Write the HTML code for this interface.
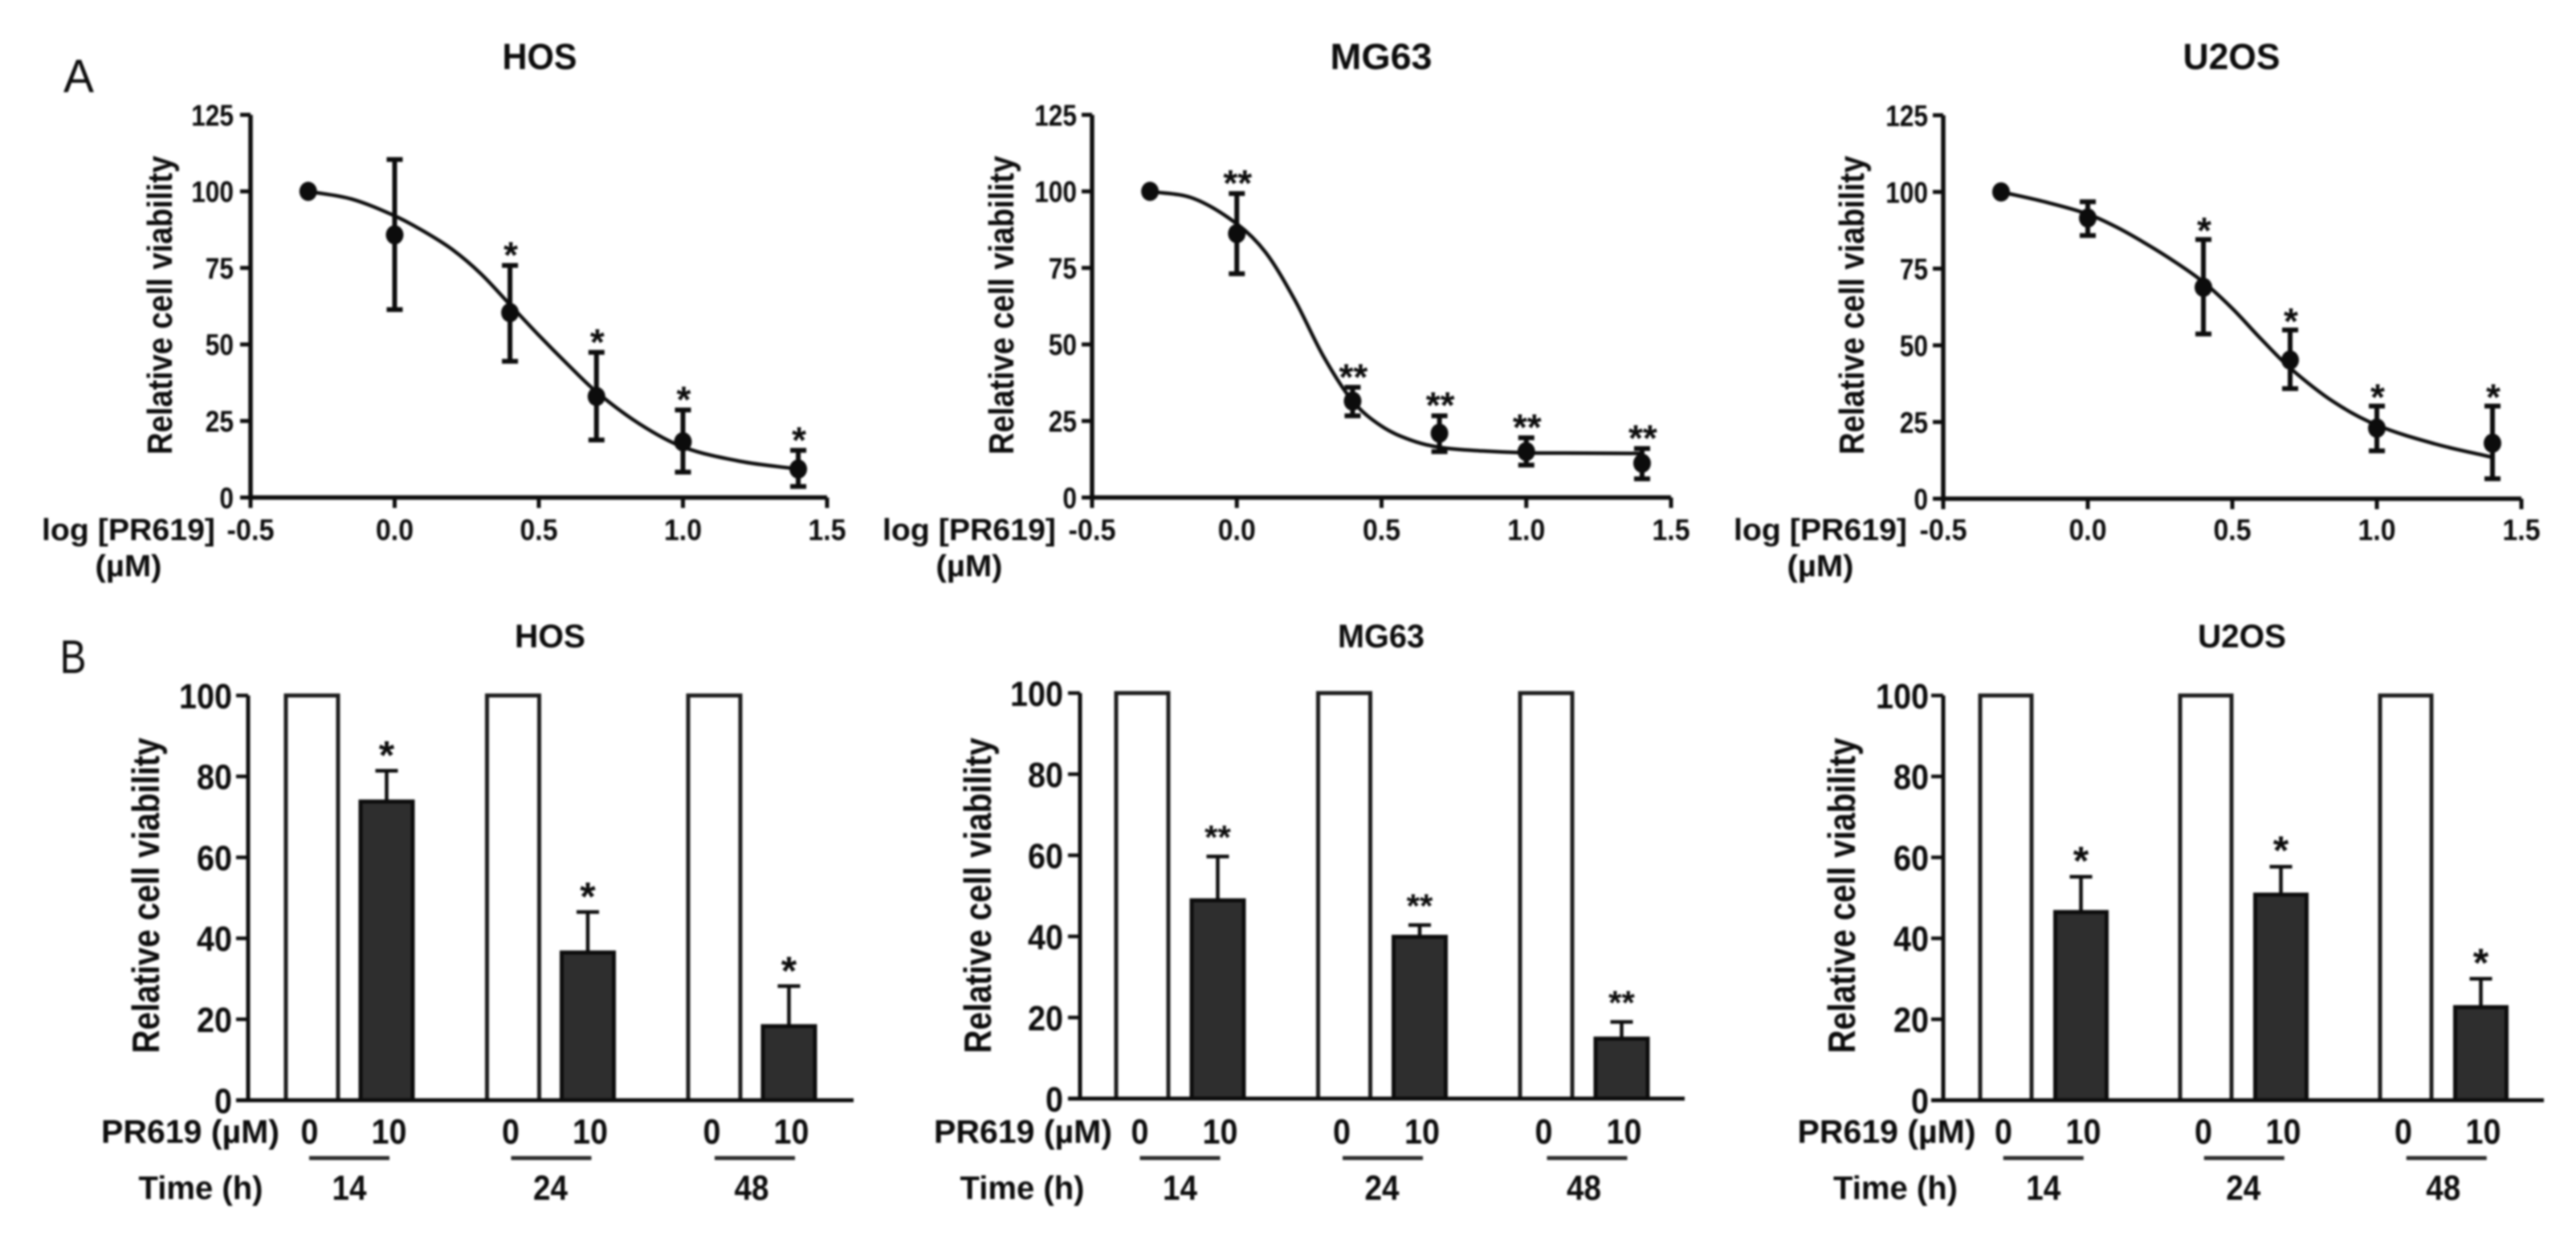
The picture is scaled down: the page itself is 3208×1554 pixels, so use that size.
<!DOCTYPE html>
<html>
<head>
<meta charset="utf-8">
<title>PR619 cell viability</title>
<style>
html,body{margin:0;padding:0;background:#fff;width:3208px;height:1554px;overflow:hidden}
svg{display:block;filter:blur(1.4px)}
text{font-family:"Liberation Sans",sans-serif;font-weight:bold;fill:#0c0c0c}
</style>
</head>
<body>
<svg id="figure" xmlns="http://www.w3.org/2000/svg" width="3208" height="1554" viewBox="0 0 3208 1554">
<rect width="3208" height="1554" fill="#fff"/>
<text x="98" y="115" font-size="58" text-anchor="middle" textLength="38" lengthAdjust="spacingAndGlyphs" style="font-weight:normal">A</text>
<text x="91" y="838" font-size="58" text-anchor="middle" textLength="33" lengthAdjust="spacingAndGlyphs" style="font-weight:normal">B</text>
</svg>
<script>
/* ---------- Dose-response data ---------- */
const doseLogConc = [-0.3, 0, 0.4, 0.7, 1, 1.4];
const curveLogConc = [-0.3, -0.15, 0, 0.1, 0.2, 0.3, 0.4, 0.5, 0.6, 0.7, 0.85, 1, 1.2, 1.4];
const xTickValues = [-0.5, 0, 0.5, 1, 1.5];
const xTickLabels = ['-0.5', '0.0', '0.5', '1.0', '1.5'];
const yTickValuesA = [0, 25, 50, 75, 100, 125];
const yTickLabelsA = ['0', '25', '50', '75', '100', '125'];

const hosMeans = [100, 85.8, 60.4, 33, 18.2, 9.3];
const hosUpper = [100, 110.4, 75.8, 47.4, 28.6, 15.4];
const hosLower = [100, 61.4, 44.5, 18.8, 8.3, 3.6];
const hosCurve = [100, 97.5, 92, 87, 81, 73, 63, 53, 43.5, 34.5, 24, 16.5, 11.8, 9.3];
const hosStars = ['', '', '*', '*', '*', '*'];

const mg63Means = [100, 86.2, 31.5, 21, 15, 11.2];
const mg63Upper = [100, 99.3, 36, 26.7, 19.5, 16];
const mg63Lower = [100, 73.1, 26.7, 15, 10.6, 6.1];
const mg63Curve = [100, 97.7, 89.4, 80, 64.6, 46, 31.5, 23.3, 18.8, 16.4, 15.2, 14.6, 14.5, 14.4];
const mg63Stars = ['', '**', '**', '**', '**', '**'];

const u2osMeans = [100, 91.5, 68.9, 45.2, 23, 18.1];
const u2osUpper = [100, 96.8, 84.5, 55, 30.2, 30.2];
const u2osLower = [100, 85.8, 53.7, 35.9, 15.6, 6.5];
const u2osCurve = [100, 96.8, 92.8, 88.5, 83.2, 77.3, 70.6, 62, 52, 42.6, 31.6, 24, 17.9, 13.5];
const u2osStars = ['', '', '*', '*', '*', '*'];

/* ---------- Time-course bar data ---------- */
const timeLabels = ['14', '24', '48'];
const doseLabels = ['0', '10'];
const yTickValuesB = [0, 20, 40, 60, 80, 100];
const yTickLabelsB = ['0', '20', '40', '60', '80', '100'];
const controlMeans = [100, 100, 100];

const hosTreated = [73.8, 36.5, 18.3];
const hosTreatedUpper = [81.4, 46.5, 28.2];
const mg63Treated = [48.9, 39.9, 14.8];
const mg63TreatedUpper = [59.7, 42.8, 18.9];
const u2osTreated = [46.5, 50.8, 23];
const u2osTreatedUpper = [55.2, 57.7, 30];

/* ---------- Layout ---------- */
const NS = 'http://www.w3.org/2000/svg';
const root = document.getElementById('figure');

function mk(tag, attrs, parent) {
  const el = document.createElementNS(NS, tag);
  for (const k in attrs) el.setAttribute(k, attrs[k]);
  parent.appendChild(el);
  return el;
}
function label(parent, str, x, y, size, width, anchor) {
  const el = mk('text', {x: x, y: y + size * 0.36, 'font-size': size, 'text-anchor': anchor || 'middle'}, parent);
  if (width) {
    el.setAttribute('textLength', width);
    el.setAttribute('lengthAdjust', 'spacingAndGlyphs');
  }
  el.textContent = str;
  return el;
}
function smoothPath(pts) {
  const n = pts.length;
  const slope = pts.map((p, i) => {
    const a = pts[Math.max(0, i - 1)], b = pts[Math.min(n - 1, i + 1)];
    return (b[1] - a[1]) / (b[0] - a[0]);
  });
  let d = 'M' + pts[0][0] + ' ' + pts[0][1];
  for (let i = 0; i < n - 1; i++) {
    const h = (pts[i + 1][0] - pts[i][0]) / 3;
    d += 'C' + (pts[i][0] + h) + ' ' + (pts[i][1] + slope[i] * h) + ' ' +
         (pts[i + 1][0] - h) + ' ' + (pts[i + 1][1] - slope[i + 1] * h) + ' ' +
         pts[i + 1][0] + ' ' + pts[i + 1][1];
  }
  return d;
}

function drawDosePanel(cfg) {
  const g = mk('g', {}, root);
  
  

  const xScale = v => cfg.x0 + (v + 0.5) / 2 * (cfg.x1 - cfg.x0);
  const yScale = v => cfg.y0 - v / 125 * (cfg.y0 - cfg.y125);

  const title = label(g, cfg.title, cfg.titleX, 70, 45, cfg.titleW);
  
  

  const yTitle = label(g, 'Relative cell viability', 0, 0, 44, 372);
  yTitle.setAttribute('transform', 'translate(' + cfg.yTitleX + ' 380) rotate(-90)');
  
  

  const xTitle = label(g, 'log [PR619]', cfg.logX, 659, 38, 216);
  
  
  const xUnit = label(g, '(µM)', cfg.unitX, 704, 38, 83);
  
  

  const axes = mk('path', {
    d: 'M' + xScale(-0.5) + ' ' + yScale(125) + 'V' + yScale(0) + 'H' + xScale(1.5),
    fill: 'none', stroke: '#0c0c0c', 'stroke-width': 5.5
  }, g);
  
  

  yTickValuesA.forEach((v, i) => {
    const tick = mk('line', {x1: cfg.x0 - 13, x2: cfg.x0, y1: yScale(v), y2: yScale(v), stroke: '#0c0c0c', 'stroke-width': 5}, g);
    
    
    const widths = yTickLabelsA[i].length * 17.6;
    const t = label(g, yTickLabelsA[i], cfg.yLabelRight, yScale(v), 37, widths, 'end');
    
    
  });
  xTickValues.forEach((v, i) => {
    const tick = mk('line', {x1: xScale(v), x2: xScale(v), y1: cfg.y0, y2: cfg.y0 + 13, stroke: '#0c0c0c', 'stroke-width': 5}, g);
    
    
    const t = label(g, xTickLabels[i], xScale(v), 659, 37, xTickLabels[i].length === 4 ? 59 : 47);
    
    
  });

  const curve = mk('path', {
    d: smoothPath(curveLogConc.map((x, i) => [xScale(x), yScale(cfg.curve[i])])),
    fill: 'none', stroke: '#0c0c0c', 'stroke-width': 4.5
  }, g);
  
  

  doseLogConc.forEach((x, i) => {
    const px = xScale(x);
    if (cfg.upper[i] !== cfg.lower[i]) {
      const bar = mk('path', {
        d: 'M' + px + ' ' + yScale(cfg.upper[i]) + 'V' + yScale(cfg.lower[i]) +
           'M' + (px - 10) + ' ' + yScale(cfg.upper[i]) + 'H' + (px + 10) +
           'M' + (px - 10) + ' ' + yScale(cfg.lower[i]) + 'H' + (px + 10),
        fill: 'none', stroke: '#0c0c0c', 'stroke-width': 6
      }, g);
      
      
    }
    const dot = mk('ellipse', {cx: px, cy: yScale(cfg.means[i]), rx: 11, ry: 12, fill: '#0c0c0c'}, g);
    
    
    if (cfg.stars[i]) {
      const star = mk('text', {x: px + 1, y: yScale(cfg.upper[i]) - cfg.starGap + 26, 'font-size': 46, 'text-anchor': 'middle'}, g);
      
      
      star.textContent = cfg.stars[i];
    }
  });
}

function drawBarPanel(cfg) {
  const g = mk('g', {}, root);
  
  

  const yScale = v => cfg.y0 - v / 100 * (cfg.y0 - cfg.y100);
  const barLeft = (group, series) => cfg.barStart + group * cfg.groupStep + series * cfg.seriesStep;
  const barW = cfg.barW;
  const lineNudge = [0, 1, 4];

  const title = label(g, cfg.title, cfg.titleX, 791, 41, cfg.titleW);
  
  

  const yTitle = label(g, 'Relative cell viability', 0, 0, 47, 393);
  yTitle.setAttribute('transform', 'translate(' + cfg.yTitleX + ' 1115) rotate(-90)');
  
  

  yTickValuesB.forEach((v, i) => {
    const t = label(g, yTickLabelsB[i], cfg.yLabelRight, yScale(v), 44, yTickLabelsB[i].length * 22, 'end');
    
    
    const tick = mk('line', {x1: cfg.x0 - 15, x2: cfg.x0, y1: yScale(v), y2: yScale(v), stroke: '#0c0c0c', 'stroke-width': 4.5}, g);
    
    
  });

  timeLabels.forEach((t, i) => {
    const ctrl = mk('rect', {
      x: barLeft(i, 0), y: yScale(controlMeans[i]), width: barW, height: yScale(0) - yScale(controlMeans[i]),
      fill: '#fff', stroke: '#1c1c1c', 'stroke-width': 5
    }, g);
    
    

    const cx = barLeft(i, 1) + barW / 2;
    const err = mk('path', {
      d: 'M' + cx + ' ' + yScale(cfg.treated[i]) + 'V' + yScale(cfg.upper[i]) + 'M' + (cx - 14) + ' ' + yScale(cfg.upper[i]) + 'H' + (cx + 14),
      fill: 'none', stroke: '#0c0c0c', 'stroke-width': 4.5
    }, g);
    
    

    const bar = mk('rect', {
      x: barLeft(i, 1), y: yScale(cfg.treated[i]), width: barW, height: yScale(0) - yScale(cfg.treated[i]),
      fill: '#2e2e2e', stroke: '#0c0c0c', 'stroke-width': 5
    }, g);
    
    

    const star = mk('text', {x: cx, y: yScale(cfg.upper[i]) - cfg.starGap + cfg.starSize * 0.56, 'font-size': cfg.starSize, 'text-anchor': 'middle'}, g);
    
    
    star.textContent = cfg.star;

    doseLabels.forEach((d, s) => {
      const lx = barLeft(i, s) + barW / 2 + (s === 0 ? -3 : 3);
      const dl = label(g, d, lx, 1408, 44, d.length * 22);
      
      
    });

    const mid = (barLeft(i, 0) + barLeft(i, 1) + barW) / 2;
    const rule = mk('line', {x1: mid + lineNudge[i] - 50, x2: mid + lineNudge[i] + 50, y1: 1442, y2: 1442, stroke: '#2a2a2a', 'stroke-width': 5}, g);
    
    

    const tl = label(g, t, mid, 1478, 44, 43);
    
    
  });

  const axes = mk('path', {
    d: 'M' + cfg.x0 + ' ' + yScale(100) + 'V' + yScale(0) + 'M' + (cfg.x0 - 15) + ' ' + yScale(0) + 'H' + cfg.xEnd,
    fill: 'none', stroke: '#0c0c0c', 'stroke-width': 5
  }, g);
  
  

  const doseTitle = label(g, 'PR619 (µM)', cfg.doseTitleX, 1408, 41, 222);
  
  
  const timeTitle = label(g, 'Time (h)', cfg.timeTitleX, 1478, 41, 155);
  
  
}

drawDosePanel({key: 'hos', title: 'HOS', titleX: 672, titleW: 93, x0: 312, x1: 1030, y0: 619.5, y125: 143, yLabelRight: 291, yTitleX: 198, logX: 160, unitX: 160, means: hosMeans, upper: hosUpper, lower: hosLower, curve: hosCurve, stars: hosStars, starGap: 23});
drawDosePanel({key: 'mg63', title: 'MG63', titleX: 1720, titleW: 127, x0: 1360, x1: 2081, y0: 619.5, y125: 143, yLabelRight: 1341, yTitleX: 1246, logX: 1207, unitX: 1207, means: mg63Means, upper: mg63Upper, lower: mg63Lower, curve: mg63Curve, stars: mg63Stars, starGap: 23});
drawDosePanel({key: 'u2os', title: 'U2OS', titleX: 2779, titleW: 121, x0: 2420, x1: 3140, y0: 621, y125: 143.5, yLabelRight: 2401, yTitleX: 2305, logX: 2267, unitX: 2267, means: u2osMeans, upper: u2osUpper, lower: u2osLower, curve: u2osCurve, stars: u2osStars, starGap: 21});

drawBarPanel({key: 'hos', title: 'HOS', titleX: 685, titleW: 88, x0: 309, xEnd: 1063, y0: 1370, y100: 866, barStart: 356, groupStep: 250.5, seriesStep: 93, barW: 65, yLabelRight: 289, yTitleX: 181, doseTitleX: 237, timeTitleX: 250, treated: hosTreated, upper: hosTreatedUpper, star: '*', starSize: 50, starGap: 30});
drawBarPanel({key: 'mg63', title: 'MG63', titleX: 1720, titleW: 108, x0: 1345, xEnd: 2098, y0: 1368, y100: 863, barStart: 1390, groupStep: 251.5, seriesStep: 94, barW: 65, yLabelRight: 1324, yTitleX: 1217, doseTitleX: 1274, timeTitleX: 1273, treated: mg63Treated, upper: mg63TreatedUpper, star: '**', starSize: 42, starGap: 33});
drawBarPanel({key: 'u2os', title: 'U2OS', titleX: 2792, titleW: 110, x0: 2420, xEnd: 3168, y0: 1370, y100: 866, barStart: 2466, groupStep: 249, seriesStep: 93.5, barW: 64, yLabelRight: 2402, yTitleX: 2293, doseTitleX: 2349.5, timeTitleX: 2360.5, treated: u2osTreated, upper: u2osTreatedUpper, star: '*', starSize: 50, starGap: 31});
</script>
</body>
</html>
